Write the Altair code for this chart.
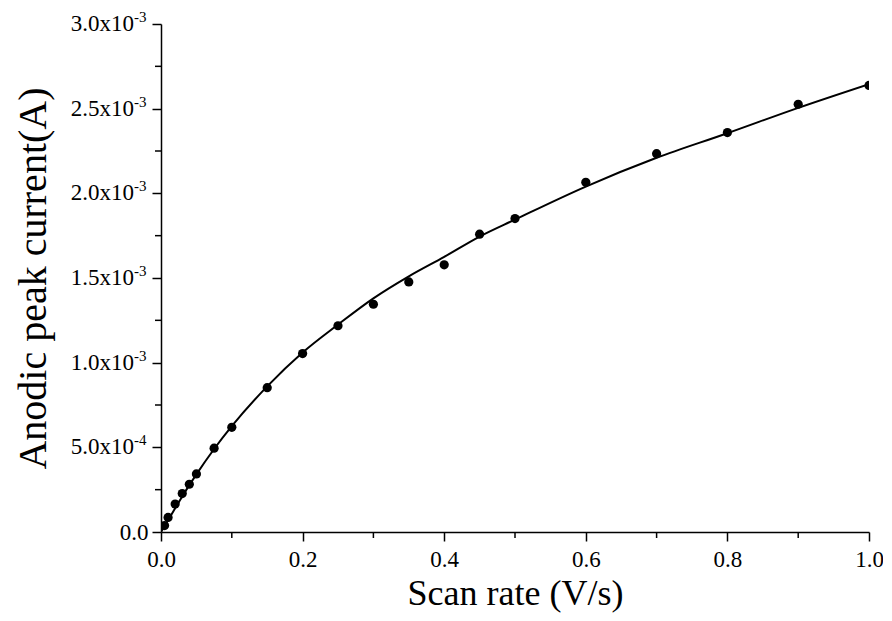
import altair as alt
import pandas as pd

# ---- data ----
scan_rate = [0.005, 0.01, 0.02, 0.03, 0.04, 0.05, 0.075, 0.1, 0.15, 0.2, 0.25,
             0.3, 0.35, 0.4, 0.45, 0.5, 0.6, 0.7, 0.8, 0.9, 1.0]
peak_current = [3.8e-5, 8.6e-5, 1.65e-4, 2.27e-4, 2.82e-4, 3.43e-4, 4.95e-4,
                6.18e-4, 8.52e-4, 1.054e-3, 1.218e-3, 1.345e-3, 1.477e-3,
                1.578e-3, 1.759e-3, 1.851e-3, 2.065e-3, 2.234e-3, 2.359e-3,
                2.526e-3, 2.637e-3]

fit_x = [0.0, 0.005, 0.01, 0.02, 0.03, 0.05, 0.075, 0.1, 0.15, 0.2, 0.25, 0.3,
         0.35, 0.4, 0.45, 0.5, 0.6, 0.7, 0.8, 0.9, 1.0]
fit_y = [0.0, 3.5e-5, 7.0e-5, 1.4e-4, 2.1e-4, 3.4e-4, 4.9e-4, 6.25e-4, 8.6e-4,
         1.06e-3, 1.225e-3, 1.38e-3, 1.51e-3, 1.625e-3, 1.745e-3, 1.845e-3,
         2.04e-3, 2.21e-3, 2.355e-3, 2.505e-3, 2.645e-3]

y_major = [0.0, 0.0005, 0.001, 0.0015, 0.002, 0.0025, 0.003]
y_mantissa = ["0.0", "5.0x10", "1.0x10", "1.5x10", "2.0x10", "2.5x10", "3.0x10"]
y_exponent = ["", "-4", "-3", "-3", "-3", "-3", "-3"]
y_minor = [0.00025, 0.00075, 0.00125, 0.00175, 0.00225, 0.00275]

x_major = [0.0, 0.2, 0.4, 0.6, 0.8, 1.0]
x_minor = [0.1, 0.3, 0.5, 0.7, 0.9]

FONT = "Liberation Serif"
W, H = 708, 508

xs = alt.Scale(domain=[0, 1], nice=False, zero=False)
ys = alt.Scale(domain=[0, 0.003], nice=False, zero=False)

x_axis = alt.Axis(
    values=x_major, format=".1f", tickSize=9, tickWidth=1.5,
    domainWidth=1.5, domainColor="black", tickColor="black",
    labelFont=FONT, labelFontSize=23, labelColor="black",
    labelPadding=7, labelFlush=False, grid=False,
    title="Scan rate (V/s)", titleFont=FONT, titleFontSize=36,
    titleFontWeight="normal", titleColor="black",
    titleBaseline="alphabetic", titleY=72, titleX=W / 2)
y_axis = alt.Axis(
    values=y_major, tickSize=9, tickWidth=1.5, domainWidth=1.5,
    domainColor="black", tickColor="black", grid=False,
    labelExpr="datum.value == 0 ? '0.0' : ''",
    labelFont=FONT, labelFontSize=23, labelColor="black",
    labelPadding=4,
    title="Anodic peak current(A)", titleFont=FONT, titleFontSize=40,
    titleFontWeight="normal", titleColor="black", titleAngle=270,
    titleBaseline="alphabetic", titleX=-116, titleY=H / 2)

X = lambda: alt.X("rate:Q", scale=xs, axis=x_axis)
Y = lambda: alt.Y("cur:Q", scale=ys, axis=y_axis)

pts = pd.DataFrame({"rate": scan_rate, "cur": peak_current})
fit = pd.DataFrame({"rate": fit_x, "cur": fit_y})
ylab = pd.DataFrame({"cur": y_major, "base": y_mantissa, "exp": y_exponent})
ymin = pd.DataFrame({"cur": y_minor})
xmin = pd.DataFrame({"rate": x_minor})

line = alt.Chart(fit).mark_line(color="black", strokeWidth=2,
                                interpolate="monotone", clip=True).encode(
    x=X(), y=Y())

points = alt.Chart(pts).mark_point(filled=True, color="black", size=85,
                                   opacity=1, shape="circle", clip=True).encode(
    x=X(), y=Y())

mant = alt.Chart(ylab).transform_filter("datum.cur > 0").mark_text(
    align="right", baseline="middle", font=FONT, fontSize=23, color="black"
).encode(x=alt.value(-27), y=Y(), text="base:N")

expo = alt.Chart(ylab).transform_filter("datum.cur > 0").mark_text(
    align="left", baseline="middle", dy=-7, font=FONT, fontSize=15, color="black"
).encode(x=alt.value(-27), y=Y(), text="exp:N")

yminor = alt.Chart(ymin).mark_rule(color="black", strokeWidth=1.5).encode(
    y=Y(), x=alt.value(-6), x2=alt.value(0))

xminor = alt.Chart(xmin).mark_rule(color="black", strokeWidth=1.5).encode(
    x=X(), y=alt.value(H), y2=alt.value(H + 6))

chart = alt.layer(line, points, mant, expo, yminor, xminor).properties(
    width=W, height=H,
    autosize=alt.AutoSizeParams(type="none"),
    padding={"left": 153, "top": 16, "right": 14, "bottom": 81},
    background="white",
).configure_view(stroke=None)

chart.save("out.html", embed_options={"renderer": "svg", "actions": False})
